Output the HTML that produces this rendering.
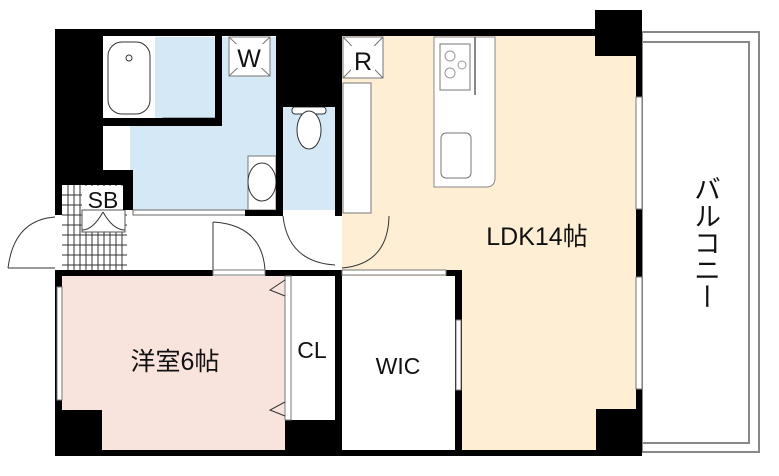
<!DOCTYPE html>
<html><head><meta charset="utf-8"><style>
html,body{margin:0;padding:0;background:#fff;}
svg{display:block;}
text{font-family:"Liberation Sans","Noto Sans CJK JP",sans-serif;fill:#111;}
</style></head><body>
<svg width="779" height="476" viewBox="0 0 779 476" xmlns="http://www.w3.org/2000/svg">
<!-- balcony -->
<rect x="642" y="32" width="117" height="420" fill="none" stroke="#888" stroke-width="2"/>
<rect x="642" y="42" width="107" height="401" fill="#fff" stroke="#888" stroke-width="2"/>
<text x="705" y="175" style="font-size:27px;writing-mode:vertical-rl" text-anchor="start">バルコニー</text>
<!-- floors -->
<rect x="342" y="36" width="294" height="414" fill="#fdeed4"/>
<rect x="130" y="37" width="146" height="173" fill="#d4e8f6"/>
<rect x="283" y="107" width="52" height="103" fill="#d4e8f6"/>
<rect x="62" y="276" width="223" height="174" fill="#f9e4dd"/>
<rect x="342" y="276" width="113" height="174" fill="#fff"/>
<!-- bath -->
<rect x="103" y="37" width="52" height="81" fill="#fff"/>
<rect x="108" y="42" width="42" height="72" rx="14" fill="#fff" stroke="#333"/>
<circle cx="129" cy="58" r="3" fill="none" stroke="#333"/>
<rect x="163" y="118" width="52" height="5" fill="#fff" stroke="#666"/>
<rect x="103" y="126" width="27" height="42" fill="#fff"/>
<!-- W, R boxes -->
<g stroke="#777" fill="#fff"><rect x="229" y="37" width="41" height="39"/><line x1="229" y1="37" x2="270" y2="76"/><line x1="270" y1="37" x2="229" y2="76"/>
<rect x="343" y="37" width="40" height="41"/><line x1="343" y1="37" x2="383" y2="78"/><line x1="383" y1="37" x2="343" y2="78"/></g>
<rect x="235" y="44" width="29" height="24" fill="#fff"/><rect x="351" y="46" width="24" height="28" fill="#fff"/>
<text x="249" y="67" style="font-size:25px" text-anchor="middle">W</text>
<text x="363" y="70" style="font-size:25px" text-anchor="middle">R</text>
<!-- sink, toilet -->
<rect x="248" y="156" width="28" height="54" fill="#fff" stroke="#777"/>
<ellipse cx="262" cy="182" rx="14" ry="19" fill="#fff" stroke="#333"/>
<rect x="292" y="107" width="34" height="7" rx="3" fill="#fff" stroke="#333"/>
<ellipse cx="309" cy="130" rx="12" ry="19" fill="#fff" stroke="#333"/>
<!-- fridge -->
<rect x="343" y="83" width="28" height="130" fill="#fff" stroke="#777"/>
<!-- kitchen -->
<path d="M434 37 H495 V178 Q495 187 486 187 H434 Z" fill="#fff" stroke="#888"/>
<line x1="475" y1="37" x2="475" y2="95" stroke="#888" stroke-width="2"/>
<rect x="440" y="44" width="30" height="46" fill="#fff" stroke="#777"/>
<g fill="none" stroke="#999"><circle cx="450" cy="56" r="5"/><circle cx="450" cy="73" r="5"/><circle cx="462" cy="65" r="4"/></g>
<rect x="441" y="133" width="30" height="45" rx="5" fill="#fff" stroke="#777"/>
<!-- entrance -->
<rect x="62" y="185" width="65" height="85" fill="#fff"/>
<g stroke="#333" stroke-width="1">
<path d="M62 195H127M62 205H127M62 215H127M62 225H127M62 235H127M62 245H127M62 255H127M62 265H127"/>
<path d="M68 185V270M74 185V270M80 185V270M86 185V270M92 185V270M98 185V270M104 185V270M110 185V270M116 185V270M122 185V270"/>
</g>
<rect x="82" y="186" width="43" height="24" fill="#fff"/>
<rect x="82" y="210" width="43" height="22" fill="#fff" stroke="#555"/>
<path d="M103 212 Q93 230 82 230 M103 212 Q113 230 125 230" fill="none" stroke="#333"/>
<text x="103" y="208" style="font-size:23px" text-anchor="middle">SB</text>
<!-- corridor doors -->
<path d="M8 268 Q14 220 55 217 M8 268 H55" fill="none" stroke="#333"/>
<path d="M213 222 Q262 225 265 270 M213 222V270" fill="none" stroke="#333"/>
<path d="M283 216 Q288 262 335 265" fill="none" stroke="#333"/>
<path d="M389 216 Q388 264 342 268" fill="none" stroke="#333"/>
<rect x="133" y="210" width="115" height="5" fill="#fff" stroke="#666"/>
<!-- walls -->
<g fill="#000">
<rect x="55" y="29" width="540" height="7"/>
<rect x="595" y="10" width="47" height="46"/>
<rect x="55" y="29" width="48" height="141"/>
<rect x="55" y="170" width="78" height="15"/>
<rect x="55" y="170" width="7" height="45"/>
<rect x="123" y="170" width="10" height="40"/>
<rect x="103" y="118" width="119" height="8"/>
<rect x="215" y="29" width="7" height="97"/>
<rect x="276" y="29" width="7" height="187"/>
<rect x="283" y="29" width="59" height="78"/>
<rect x="335" y="29" width="7" height="187"/>
<rect x="245" y="210" width="38" height="6"/>
<rect x="55" y="270" width="158" height="6"/>
<rect x="265" y="270" width="77" height="6"/>
<rect x="446" y="270" width="16" height="6"/>
<rect x="55" y="270" width="7" height="186"/>
<rect x="55" y="410" width="47" height="46"/>
<rect x="55" y="450" width="587" height="6"/>
<rect x="285" y="420" width="57" height="36"/>
<rect x="335" y="270" width="7" height="186"/>
<rect x="455" y="270" width="7" height="186"/>
<rect x="636" y="36" width="6" height="420"/>
<rect x="596" y="409" width="46" height="47"/>
</g>
<!-- windows -->
<g fill="#fff" stroke="#777">
<rect x="57" y="287" width="5" height="113"/>
<rect x="636" y="97" width="6" height="112"/>
<rect x="636" y="277" width="6" height="112"/>
<rect x="456" y="320" width="5" height="70"/>
<rect x="342" y="270" width="104" height="5"/>
<rect x="213" y="270" width="52" height="5"/>
<rect x="285" y="276" width="6" height="144"/>
</g>
<path d="M285 280 L270 290 L285 296 M285 402 L270 410 L285 416" fill="none" stroke="#333"/>
<!-- labels -->
<text x="537" y="245" style="font-size:25px" text-anchor="middle">LDK14帖</text>
<text x="175" y="370" style="font-size:25px" text-anchor="middle">洋室6帖</text>
<text x="312" y="358" style="font-size:23px" text-anchor="middle">CL</text>
<text x="398" y="374" style="font-size:23px" text-anchor="middle">WIC</text>
</svg>
</body></html>
